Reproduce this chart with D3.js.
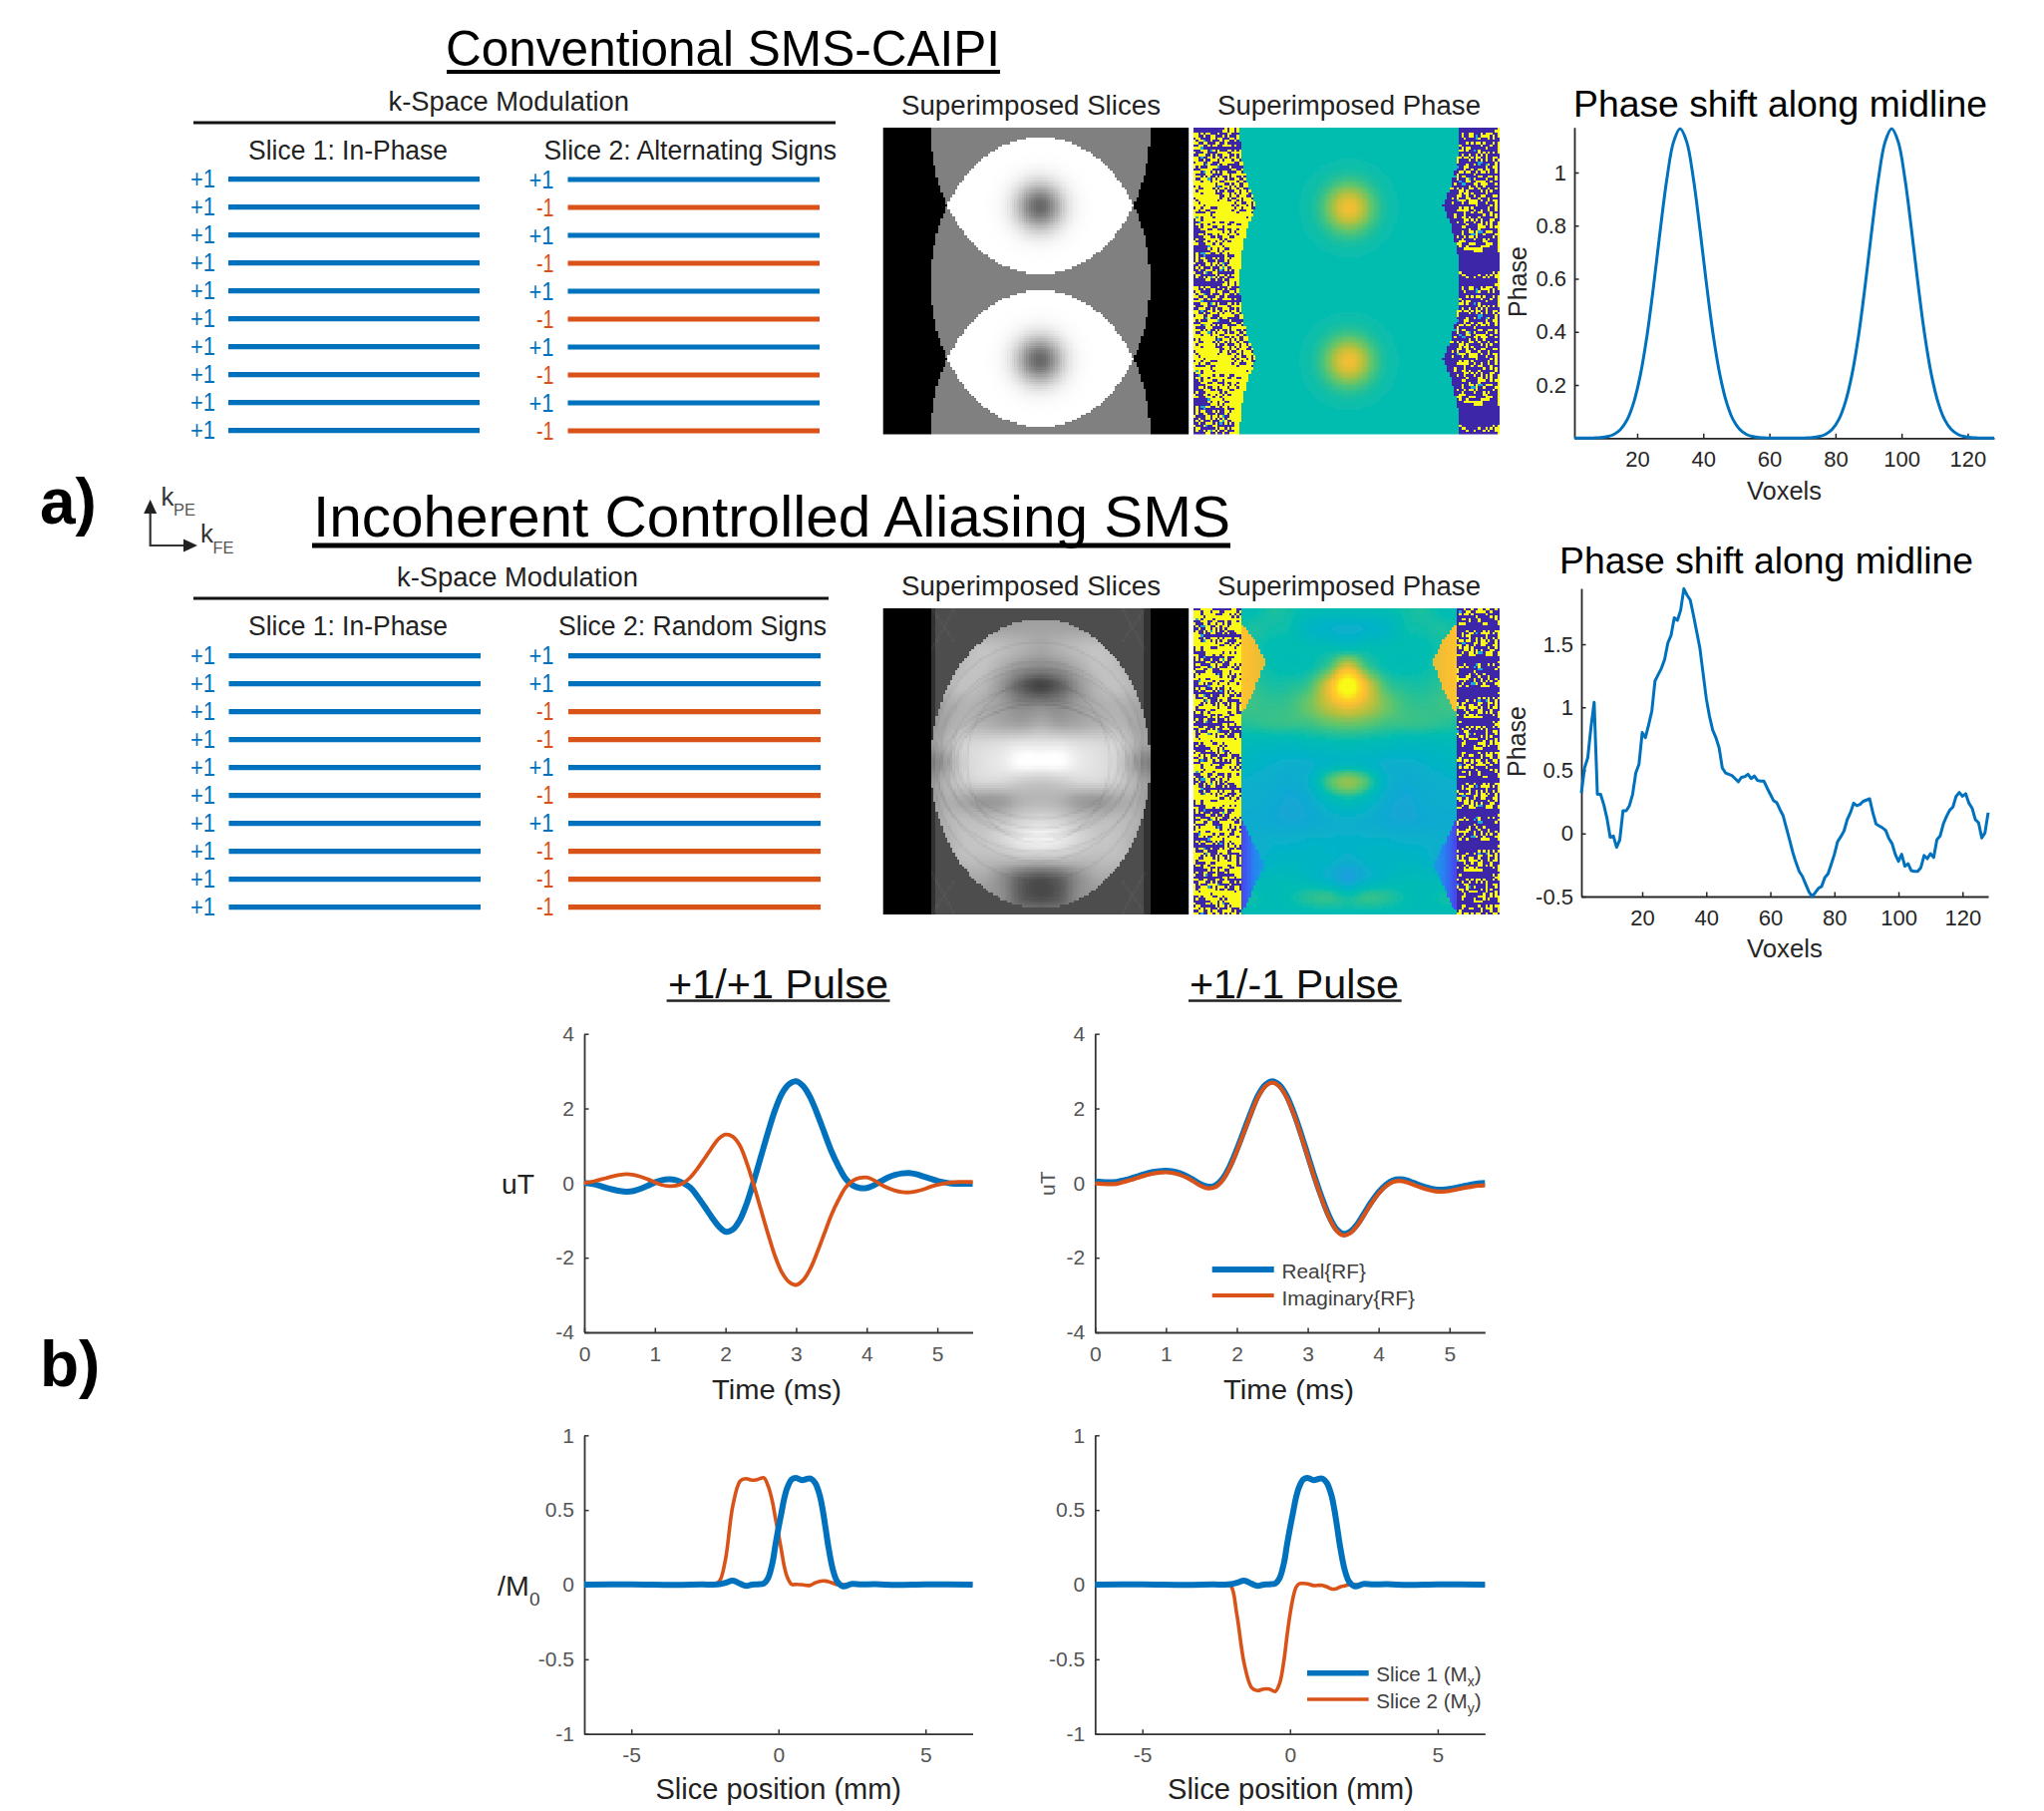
<!DOCTYPE html>
<html><head><meta charset="utf-8">
<script src="https://cdn.jsdelivr.net/npm/d3@7/dist/d3.min.js"></script>
<style>html,body{margin:0;padding:0;background:#fff}svg{display:block}text{font-family:"Liberation Sans",Arial,sans-serif}</style>
</head><body><svg id="c" width="2050" height="1816"></svg>
<script>
// ---------- values ----------
const slice1Signs      = [1,1,1,1,1,1,1,1,1,1];
const alternatingSigns = [1,-1,1,-1,1,-1,1,-1,1,-1];
const randomSigns      = [1,1,-1,-1,1,-1,1,-1,-1,-1];

const voxelTicks = [20,40,60,80,100,120];
const topPhaseTicks = [0.2,0.4,0.6,0.8,1];
const bottomPhaseTicks = [-0.5,0,0.5,1,1.5];
const timeTicks = [0,1,2,3,4,5];
const uTTicks = [-4,-2,0,2,4];
const sliceTicks = [-5,0,5];
const magTicks = [-1,-0.5,0,0.5,1];

// midline phase, conventional (every second voxel, 1,3,5 ... 127, then 128)
const topVoxels = [1,3,5,7,9,11,13,15,17,19,21,23,25,27,29,31,33,35,37,39,41,43,45,47,49,51,53,55,57,59,61,63,65,67,69,71,73,75,77,79,81,83,85,87,89,91,93,95,97,99,101,103,105,107,109,111,113,115,117,119,121,123,125,127,128];
const topPhase = [0,0,0.0002,0.0006,0.002,0.0057,0.0144,0.033,0.07,0.136,0.24,0.388,0.577,0.785,0.977,1.115,1.165,1.115,0.977,0.785,0.577,0.388,0.24,0.136,0.07,0.033,0.0144,0.0057,0.002,0.0006,0.0002,0,0,0,0.0002,0.0006,0.002,0.0057,0.0144,0.033,0.07,0.136,0.24,0.388,0.577,0.785,0.977,1.115,1.165,1.115,0.977,0.785,0.577,0.388,0.24,0.136,0.07,0.033,0.0144,0.0057,0.002,0.0006,0.0002,0,0];

// midline phase, incoherent (voxels 1..128)
const noisyPhase = [0.32,0.52,0.60,0.84,1.04,0.31,0.31,0.23,0.12,-0.03,-0.02,-0.11,-0.05,0.18,0.18,0.22,0.31,0.48,0.55,0.80,0.76,0.86,0.97,1.21,1.26,1.31,1.38,1.51,1.57,1.71,1.69,1.77,1.94,1.89,1.85,1.73,1.60,1.47,1.27,1.07,0.93,0.82,0.76,0.68,0.52,0.48,0.47,0.46,0.435,0.41,0.445,0.45,0.47,0.435,0.455,0.42,0.415,0.415,0.36,0.31,0.26,0.245,0.19,0.14,0.045,-0.05,-0.15,-0.23,-0.30,-0.34,-0.40,-0.46,-0.50,-0.47,-0.435,-0.42,-0.35,-0.32,-0.245,-0.165,-0.065,-0.025,0.02,0.11,0.165,0.24,0.22,0.23,0.255,0.265,0.275,0.165,0.075,0.06,0.045,0.025,-0.04,-0.08,-0.165,-0.22,-0.165,-0.26,-0.24,-0.295,-0.30,-0.30,-0.27,-0.175,-0.20,-0.16,-0.19,-0.05,-0.02,0.075,0.135,0.185,0.21,0.295,0.325,0.295,0.315,0.24,0.20,0.11,0.085,-0.035,0.005,0.165];

// RF pulses, every 0.1 ms from 0 to 5.5
const timeMs = d3.range(56).map(i=>i/10);
const plusReal = [0,-0.02,-0.06,-0.12,-0.17,-0.21,-0.23,-0.21,-0.15,-0.07,0.02,0.08,0.1,0.08,0,-0.12,-0.35,-0.62,-0.9,-1.15,-1.3,-1.25,-1,-0.55,0.05,0.7,1.35,1.95,2.4,2.65,2.73,2.6,2.3,1.85,1.35,0.85,0.45,0.12,-0.06,-0.13,-0.13,-0.06,0.05,0.15,0.22,0.26,0.27,0.24,0.18,0.12,0.06,0.02,-0.01,-0.02,-0.02,-0.02];
const plusImag = [0,0.03,0.08,0.13,0.18,0.22,0.24,0.22,0.17,0.1,0.02,-0.05,-0.08,-0.07,0,0.15,0.38,0.65,0.93,1.18,1.3,1.25,1.02,0.55,-0.05,-0.7,-1.35,-1.95,-2.4,-2.65,-2.73,-2.6,-2.3,-1.85,-1.35,-0.85,-0.45,-0.12,0.06,0.14,0.15,0.08,-0.04,-0.13,-0.2,-0.24,-0.25,-0.22,-0.17,-0.1,-0.05,-0.01,0.02,0.03,0.03,0.03];
const minusReal = [0.04,0.03,0.02,0.03,0.07,0.12,0.18,0.24,0.29,0.32,0.33,0.31,0.26,0.18,0.07,-0.04,-0.1,-0.06,0.12,0.45,0.9,1.4,1.9,2.35,2.63,2.73,2.63,2.35,1.9,1.35,0.75,0.15,-0.4,-0.88,-1.22,-1.36,-1.3,-1.1,-0.8,-0.5,-0.24,-0.05,0.07,0.1,0.07,0,-0.07,-0.13,-0.17,-0.18,-0.16,-0.12,-0.08,-0.04,-0.01,0];
const minusImag = [-0.01,-0.02,-0.03,-0.02,0.03,0.08,0.14,0.2,0.25,0.28,0.29,0.27,0.22,0.14,0.03,-0.08,-0.14,-0.1,0.08,0.41,0.86,1.36,1.86,2.31,2.59,2.69,2.59,2.31,1.86,1.31,0.71,0.11,-0.44,-0.92,-1.26,-1.4,-1.34,-1.14,-0.84,-0.54,-0.28,-0.09,0.03,0.06,0.02,-0.05,-0.12,-0.18,-0.22,-0.23,-0.21,-0.17,-0.13,-0.1,-0.07,-0.06];

// slice profiles
const slicePos   = [-6.6,-5,-3.5,-2.6,-2.2,-2,-1.8,-1.55,-1.3,-1.1,-0.9,-0.7,-0.5,-0.35,-0.2,-0.1,0,0.1,0.2,0.3,0.45,0.6,0.8,1,1.1,1.25,1.4,1.5,1.6,1.7,1.85,2,2.2,2.5,2.8,3.3,4,5,6.6];
const sliceOneMx = [0,0.001,-0.002,0.001,0,0.003,0.012,0.026,0.006,-0.008,0,0.002,0.008,0.045,0.15,0.27,0.38,0.48,0.58,0.65,0.705,0.715,0.7,0.71,0.71,0.68,0.6,0.505,0.38,0.25,0.1,0.02,-0.012,0.005,0.002,0.003,-0.002,0.001,0];
const sliceTwoPlus  = [0,0,0,0,0,0.025,0.17,0.53,0.695,0.71,0.7,0.705,0.715,0.66,0.55,0.44,0.34,0.23,0.12,0.05,0.002,0.002,0,-0.006,-0.003,0.012,0.022,0.025,0.024,0.02,0.01,0,0,0,0,0,0,0,0];
const sliceTwoMinus = [0,0,0,0,0,-0.01,-0.2,-0.53,-0.69,-0.71,-0.7,-0.7,-0.715,-0.66,-0.5,-0.34,-0.2,-0.09,-0.02,0.005,0.008,0.005,-0.006,-0.004,-0.005,-0.015,-0.028,-0.03,-0.025,-0.015,-0.008,0,0,0,0,0,0,0,0];

// outside-object phase noise, hand transcribed: N navy, Y yellow, C cyan (64 rows, repeats)
const noiseLeft = [
"NNNNNNNNNNNNNYNYYNYNNYYNYY","NNNNNNNNNNNNYYNYYNYYNNYNYY","YYNYNYYNNNYNNNYYNNNYYNNYNY","YYNNYNNYYNNNYNYNNNYYNYYNNY",
"NYYNNNNYYNYYNNNYYNYNYYNYYN","YNYYCNNYNNNYNYYNNYNNYNYNYY","YYNNYYNNNYYNNYNNNNNNYYNYNN","NNYYNNYNYYNNYYYYNYNNNYNNYY",
"YYYCNNNNNNNNNNNNNNNNNYYYNY","NNNYYYNCYNYNNNYYNYNYNYNYYN","YNNNYYNNNNYYYYNNYYYYYYNYYN","NNYYYNNYNYNNYYYNNYNYNYYNNY",
"YYNCNNYYNYYNYNYNYYNYYYYYNN","YYNNYNNYYYNYNYYYNYYNNYYNYY","NYYYNNYYNNNYYYYYYNNYYYYYYY","YYYYNCYNNNYNYYNNNNNYYYYYNY",
"YNYNNNYYYYCNNNNYNNNNNNYYYY","NNNYYYYYNNNNNNNNYYNNYYYYYY","YYYNCYYNYNYNYYNNNNYYNYYNYY","YNNNNYYYNNNNYYYNYYYYYYNYYY",
"YYYNYNYNNYNYNNYNYYNNYNYYYY","YNNYYYCNYNYYYNYNNYYNNYYYYN","YYYNYYYNYYYNNYYYYYNYYNYYNY","YYYYYYYYYNYYYNNYNYYNNYYYYY",
"NYNYYYYYYNCNYYYNYNYNNYYNYN","YYNNYYYYNYNYYNYNYYNYYNNYYY","YNYYYYYYYNYNNYNNNYYNYYNYYN","YYYNYYYYYNNNYYYNYNYNYYYNYY",
"YYYYYYYYYYYNNYYNYYNYYYNNYY","NYYYYYYYYYYNYYNYNNYYNYYYNY","YNYYYYYYYYNYYYNNYYNYNYYYYY","YYNYYYYYYYYYYYYYYNYYNNYYNY",
"YYYYNYYYYYYYYYYYNYNYYYNYNY","NYYNYYYNNNYYYYYYYNYYNYYYNN","YYNYYNNYYYYYYYYYNYYNNNYYY ","YNNNNYYNNYYYYYYYYYNYYYYYN ",
"YYYYYYYNYYYYYYYYYYYYYYYY  ","YCYNYYYYNYYYYYYYYYYYYYNY  ","NYYNYYYYYYYYYYYYYYYYYYY   ","NNCYYYYYNYYNNYYNNYYYYYYY  ",
"NYYNYYNYYYYYYYNNYYNNYYY   ","NNYNYYYYNNYYNYYYYYYYYY    ","NNNYYYNNYYNNNYNNYYNYYY    ","NNNNNYYYYYYYNYYNYNYYYY    ",
"NNYYNYNNYYNYYYNYYYNYY     ","NNNNYYYNNYNNYYYNNYYY      ","NYNNNYYYYYYNYNYYYYYY      ","YNNNYYNYYNYYNYNNYY        ",
"YYNNNYYYNYYNYYYYYY        ","NNNNNNCYYYYYNYYYY         ","NNNNNNYNYYNYYNNYY         ","NNNNNNNYYYNYNYYYY         ",
"NYNCCYYNNYYNYYNYY         ","NYNNCNNNNNNNNYNNN         ","NYNYYNNNYNYNNYYNY         ","NYNNYYNNNYNNNYNYY         ",
"YNNNNYYNYYNYCNNYY         ","NNYNNYYNYNYNYNYYY         ","NYNYNNNYNNNYCYNNY         ","NNYNNYYYNYNCNYNYN         ",
"YNNNYCNNYYNNNNNNN         ","NYYNNNNNNYNYYNYNY         ","NYNNYNYCYNYNNYNNN         ","NNNNNYYNNYNNYNNYY         "];
const noiseRight = [
"     NNNNNNNNNNNNNNNNNNY","     NNNNNNNNNNNNNNNNNYY","      NNYNNYYNNNYNYYYNNY","      NNYNNYYNCNYYYYNYNY",
"      NNNYNNNNCYNNNYNYNN","      NNNNNNNNNNNNNNNNNN","      YNNNYNYNYYNYNNNYNY","      NYNNNNNNNNYNNNYNNY",
"     NNNYNYYNNNNNNYNNNNY","     NNYYNYNNCNYNNNNNNNY","     NYNNNNNNNNYNYNYNYNY","    NNNNYNNYNNYNYNYNNNNN",
"    NYYYNYYNYNYYNNYNNYYN","    NNYNNNNYNNYNYNYNNYNY","   NNNYNNNNNNNNCCNNNNNY","   NNNNNNNYNNYNCNNCYNNY",
"  NNNNCNNYYNNNNNNNYNNYY","  NNNCNNNYNNYNNYYNYYNNY"," NNNNNNYYNYYNNYNYYNYNNY"," NNNNNYNNNNNNYNNNNNNNNN",
"NNNNCCYNYYNNNNNYYNNYYNY","NNNNNNYNNNYCNYNNNNYNNNY","NNYNNNNCNNYYNNYYYYNNYNN","NNYNNYNNCCNNNYYNYYYNNNY",
"NNNYNNNNNNNYNNYNNYNNNNN","NYNYYNYNYNNYYNNYNNNYNNY","NNYNNNNYYNYNNNNNYNYNYNN","NNNNNNNYNYYNYNNNNNYNNNN",
" NNNNNYYNNYNNYNNYYNNNYY"," NNNYNYNNNYYNNNYNNNYNNN","  NNNNCYYYNYYYYNYNNYNYY","  NNYNNNYNNYYYYNNNYNNNY",
"   NNNNNNNNNNNYNNNNNYNY","    NNNYNYYNYNNNNNNYNNY","    NNYYYYYNNYNNYNNYNNY","     NNNNYNNYNNYYNNNYNN",
"     YNNNYNNNNNNNYNNYNY","     YNNYYNYNNNYNNNNNNY","      NNNYYNYNYNYNNNYYN","      YNNYNNNYNNYNYNYNNY",
"      NNNNYNNNNYYNYNYNNY","      NNYYNNNNNYYYNNYNYY","      NNNNNYNNNYNNNNNNNY","      NNYNNYYNYCCNYYYNNY",
"      NNYNNNCCYNNYNNNNYY","      YNNYNYYNYNNNNNNYNY","      NNYNNNNYNNNYNYNNNY","      NYYYNNNNNNNYYNNNNY",
"      YYNNNYYYNNNNYYYNNY","      NYNNYNNNNNYYYYNNNY","      NNNYYYYYYYYNNNNNNY","      NNNNNNNYYYYNNNNNNY",
"      NNNNNNNNNNNNNNNNNN","      NNNNNNNNNNNNNNNNNN","      NNNNNNNNNNNNNNNNNN","      NNNNNNNNNNNNNNNNNN",
"      NNNNNNNNNNNNNNNNNN","      NNNNNNNNNNNNNNNNNN","      NNNNNNNNNNNNNNNNNN","      NNNNNNNNNNNNNNNNNN",
"      NYNNNNNNNNNNNNNYNY","      NNYYNNNNNYNNYNYNYY","      NNNNYNNYNNNYNYNNYY","      NNNNNNNNNNNNNNNNNY"];

// coarse hand-read fields, columns 0,8,...64 (mirrored about the centre), rows 0,8,...128
const aliasedPhaseGrid = [
[-.1,-.1,-.05,-.05,.1,.05,-.05,-.1,-.1],
[-.1,-.1,0,.1,.05,0,-.3,-.4,-.45],
[-.1,-.1,.1,.05,-.02,-.05,-.05,-.05,-.1],
[0,0,.15,.1,0,-.05,0,.3,1.05],
[.2,.2,.25,.2,.1,.12,.3,1.1,2.25],
[.3,.3,.3,.25,.2,.25,.5,.9,1.2],
[.1,.1,.1,.15,.2,.22,.25,.38,.45],
[-.1,-.1,-.1,-.15,-.2,-.2,-.12,-.08,-.05],
[-.2,-.2,-.2,-.3,-.4,-.45,-.45,-.3,-.25],
[-.4,-.4,-.4,-.45,-.5,-.55,-.38,.3,.65],
[-.5,-.5,-.5,-.5,-.55,-.65,-.55,-.22,-.05],
[-.55,-.55,-.55,-.55,-.6,-.65,-.6,-.5,-.45],
[-.5,-.5,-.5,-.5,-.45,-.45,-.4,-.4,-.4],
[-.6,-.6,-.6,-.55,-.35,-.3,-.3,-.35,-.45],
[-.3,-.3,-.3,-.25,-.15,-.15,-.25,-.45,-.8],
[.05,.05,.05,.05,-.1,0,.15,.2,.05],
[-.1,-.1,-.1,-.1,-.1,-.1,-.1,-.1,-.05]];
const aliasedGreyGrid = [
[.5,.5,.5,.52,.54,.56,.58,.6,.6],
[.55,.55,.55,.58,.62,.64,.64,.64,.64],
[.6,.6,.62,.68,.72,.76,.74,.7,.66],
[.62,.62,.62,.66,.74,.76,.68,.58,.54],
[.66,.66,.66,.7,.76,.72,.58,.38,.27],
[.58,.58,.58,.66,.7,.68,.62,.54,.54],
[.58,.58,.58,.66,.72,.7,.66,.64,.68],
[.6,.6,.6,.7,.82,.85,.87,.9,.9],
[.46,.46,.46,.62,.82,.88,.92,1,1],
[.56,.56,.56,.7,.8,.84,.84,.8,.78],
[.56,.56,.56,.68,.66,.6,.62,.7,.72],
[.56,.56,.56,.7,.74,.74,.76,.82,.85],
[.62,.62,.62,.68,.76,.78,.84,.92,.96],
[.64,.64,.64,.68,.74,.74,.74,.76,.76],
[.62,.62,.62,.64,.66,.66,.56,.4,.34],
[.56,.56,.56,.56,.58,.58,.55,.36,.3],
[.5,.5,.5,.5,.5,.5,.5,.5,.5]];
// wedges at the edge of the incoherent phase: [row, reach column]
const orangeWedge = [[4,19],[6,20],[14,26],[22,29.5],[35,24.4],[43,20],[46,19]];
const blueWedge   = [[85,19],[87,19.5],[97,24],[107,29.5],[118,24],[125,21],[127,19]];

// phase colour map stops
const parulaAt  = [0,.1,.2,.3,.4,.5,.6,.7,.8,.9,1];
const parulaHex = ["#3e26a8","#4748f0","#2586f0","#1aa0dc","#06b2c8","#04bdb0","#5cc56e","#b8c03c","#fbbe32","#fdd424","#f9fb15"];

// ---------- layout ----------
const BLUE="#0072bd", ORANGE="#d95319", INK="#262626", GREY="#555", SOFT="#404040";
const svg=d3.select("#c");
const defs=svg.append("defs");
defs.append("filter").attr("id","soft").attr("x","0").attr("y","0").attr("width","1").attr("height","1")
    .append("feGaussianBlur").attr("stdDeviation",0.7);

function T(x0,x1,base,str,size,opt={}){
  const t=svg.append("text").attr("x",x0).attr("y",base).attr("font-size",size)
    .attr("fill",opt.fill||"#111").attr("font-weight",opt.weight||null).text(str);
  if(opt.anchor) t.attr("text-anchor",opt.anchor);
  if(x1!=null){t.attr("textLength",x1-x0).attr("lengthAdjust","spacingAndGlyphs");}
  if(opt.rotate!=null) t.attr("transform",`rotate(${opt.rotate} ${x0} ${base})`);
  return t;
}
function rule(x0,x1,y,w,c){svg.append("line").attr("x1",x0).attr("x2",x1).attr("y1",y).attr("y2",y).attr("stroke",c||"#000").attr("stroke-width",w);}

// ---- k-space rows
function rows(signs,x0,x1,labelEnd,y0){
  const y=d3.scaleLinear().domain([0,9]).range([y0,y0+252]);
  const col=s=>s>0?BLUE:ORANGE;
  const g=svg.append("g");
  g.selectAll("line").data(signs).join("line").attr("x1",x0).attr("x2",x1)
    .attr("y1",(d,i)=>y(i)).attr("y2",(d,i)=>y(i)).attr("stroke",col).attr("stroke-width",5.2);
  g.selectAll("text").data(signs).join("text")
    .attr("x",d=>labelEnd-(d>0?25:17.5)).attr("y",(d,i)=>y(i)+8.5)
    .attr("textLength",d=>d>0?25:17.5).attr("lengthAdjust","spacingAndGlyphs")
    .attr("font-size",26).attr("fill",col).text(d=>d>0?"+1":"-1");
}

T(447,1003,66,"Conventional SMS-CAIPI",50,{fill:"#000"}); rule(448,1003,72,4);
T(389.5,631,111,"k-Space Modulation",27,{fill:"#222"}); rule(194,838,123,3,"#111");
T(249,449,159.5,"Slice 1: In-Phase",27,{fill:"#222"}); T(545.6,839,159.5,"Slice 2: Alternating Signs",27,{fill:"#222"});
rows(slice1Signs,229,481,216,179.7); rows(alternatingSigns,569.5,822,555.5,180);
T(904,1164,115,"Superimposed Slices",27,{fill:"#222"}); T(1221,1485,115,"Superimposed Phase",27,{fill:"#222"});

T(314,1234,538,"Incoherent Controlled Aliasing SMS",58,{fill:"#000"}); rule(313,1234,547,5);
T(398,640,588,"k-Space Modulation",27,{fill:"#222"}); rule(194,831,600,3,"#111");
T(249,449,636.5,"Slice 1: In-Phase",27,{fill:"#222"}); T(560,829,636.5,"Slice 2: Random Signs",27,{fill:"#222"});
rows(slice1Signs,229.5,482,216,657.7); rows(randomSigns,570,823,555.5,657.7);
T(904,1164,597,"Superimposed Slices",27,{fill:"#222"}); T(1221,1485,597,"Superimposed Phase",27,{fill:"#222"});

T(40,null,525,"a)",64,{weight:"bold",fill:"#000"});
T(40,null,1390,"b)",64,{weight:"bold",fill:"#000"});
// k axes
svg.append("path").attr("d","M150.7 509V547H188").attr("fill","none").attr("stroke","#333").attr("stroke-width",2.2);
svg.append("path").attr("d","M150.7 501l-6.5 14h13z M198 547l-14 -6.5v13z").attr("fill","#222");
T(161.5,null,506.5,"k",26,{fill:"#333"}); T(174,null,516.5,"PE",16.5,{fill:"#555"});
T(201,null,544,"k",26,{fill:"#333"}); T(213.5,null,555,"FE",16.5,{fill:"#555"});

// ---- voxel images
const N=128;
const parula=d3.scaleLinear().domain(parulaAt).range(parulaHex);
const phaseToColor=d3.scaleLinear().domain([-2,2]).range([0,1]).clamp(true);
const phaseColor=v=>parula(phaseToColor(v));
const greyColor=d3.scaleLinear().domain([0,1]).range(["#000","#fff"]).clamp(true);
const topAt=d3.scaleLinear().domain(topVoxels).range(topPhase);
const bump=d=>d>=30?0:topAt(33+d);   // radial read of one peak of the midline curve

function inside(c,r,cy,cx){const dx=(c-cx)/46,dy=(r-cy)/60.5;return dx*dx+dy*dy<=1;}
function noise(c,r,perm){
  const rr=perm?((r*5+17)%64):(r%64);
  let ch;
  if(c<64){ch=(noiseLeft[rr][c]||"Y");}
  else{const k=c-104; ch=k>=0?(noiseRight[rr][k]||"N"):"N";}
  if(ch===" ") ch=c<64?"Y":"N";
  return ch==="Y"?"#f9fb15":ch==="C"?"#1aa8d8":"#3e26a8";
}
function catmull(a,b,c,d,t){return 0.5*(2*b+(c-a)*t+(2*a-5*b+4*c-d)*t*t+(3*b-a-3*c+d)*t*t*t);}
function gridAt(g,r,c){
  const cc=c<=64?c:128-c; const x=Math.max(cc,0)/8,y=Math.min(r/8,16);
  const xi=Math.min(7,Math.floor(x)),yi=Math.min(15,Math.floor(y)),tx=x-xi,ty=y-yi;
  const G=(i,j)=>g[Math.max(0,Math.min(16,i))][j<0?0:j>8?16-j:j];
  const row=i=>catmull(G(i,xi-1),G(i,xi),G(i,xi+1),G(i,xi+2),tx);
  return catmull(row(yi-1),row(yi),row(yi+1),row(yi+2),ty);
}
function reach(w,r){
  if(r<w[0][0]||r>w[w.length-1][0]) return -1;
  return d3.scaleLinear().domain(w.map(d=>d[0])).range(w.map(d=>d[1]))(r);
}
function paint(fn,x,y,w,h,after){
  const cv=document.createElement("canvas");cv.width=N;cv.height=N;
  const ctx=cv.getContext("2d");
  for(let r=0;r<N;r++)for(let c=0;c<N;c++){ctx.fillStyle=fn(c,r);ctx.fillRect(c,r,1,1);}
  if(after) after(ctx);
  svg.append("image").attr("x",x).attr("y",y).attr("width",w).attr("height",h)
    .attr("preserveAspectRatio","none").attr("href",cv.toDataURL())
    .style("image-rendering","pixelated").attr("filter","url(#soft)");
}

// conventional magnitude
paint((c,r)=>{
  const n=(inside(c,r,0,65.4)?1:0)+(inside(c,r,64,65.4)?1:0)+(inside(c,r,128,65.4)?1:0);
  let v=n/2;
  if(n>=2){
    const rc=r<64?32.5:96.5,d=Math.hypot(c-65,r-rc);
    v=1-0.6*bump(d)/1.165;
  }
  return greyColor(v);
},885.7,128,306.5,307.5);

// conventional phase
paint((c,r)=>{
  const n=inside(c,r,0,64.8)||inside(c,r,64,64.8)||inside(c,r,128,64.8);
  if(!n) return noise(c,r,false);
  const rc=r<64?33:97,d=Math.hypot(c-64.5,r-rc);
  return phaseColor(bump(d));
},1197,128,307,307.5);

// incoherent magnitude
const ringSet=[[65,60,41,35],[65,62,37,30],[65,70,42,32],[65,68,38,28],[65,60,44,46],[65,68,44,46],[65,64,34,24],[65,64,30,34]];
paint((c,r)=>{
  if(c<19.4||c>111) return "#000";
  if(inside(c,r,64.5,65.4)) return greyColor(gridAt(aliasedGreyGrid,r,c-1.4));
  const edge=(c<22||c>108)?0.2:0.3;
  return greyColor(edge);
},885.7,610,306.5,307,ctx=>{
  ctx.save();ctx.beginPath();ctx.rect(19.4,0,91.6,128);ctx.clip();
  ctx.strokeStyle="rgba(20,20,20,.1)";ctx.lineWidth=.6;
  ringSet.forEach(e=>{ctx.beginPath();ctx.ellipse(e[0],e[1],e[2],e[3],0,0,2*Math.PI);ctx.stroke();});
  ctx.strokeStyle="rgba(255,255,255,.08)";
  [[20,0,30,14],[30,0,20,18],[110,0,100,14],[100,0,110,18],[20,128,30,114],[30,128,20,110],[110,128,100,114],[100,128,110,110]].forEach(s=>{
    ctx.beginPath();ctx.moveTo(s[0],s[1]);ctx.lineTo(s[2],s[3]);ctx.stroke();});
  ctx.restore();
});

// incoherent phase
paint((c,r)=>{
  if(c<20||c>109) return noise(c,r,true);
  let v=gridAt(aliasedPhaseGrid,r,c);
  const m=c<=64?c:129-c;
  const ro=reach(orangeWedge,r), rb=reach(blueWedge,r);
  if(m<ro) v=1.3-0.25*(m-20)/9;
  if(m<rb) v=-1.6+0.7*(m-20)/9;
  return phaseColor(v);
},1197,610,307,307);

// ---- line plots
function axes(b,xd,yd,xt,yt,o){
  const x=d3.scaleLinear().domain(xd).range([b.l,b.r]);
  const y=d3.scaleLinear().domain(yd).range([b.b,b.t]);
  const fmt=d=>String(d);
  const gx=svg.append("g").attr("transform",`translate(0,${b.b})`)
    .call(d3.axisBottom(x).tickValues(xt).tickFormat(fmt).tickSizeInner(-4.5).tickSizeOuter(0).tickPadding(o.padX));
  const gy=svg.append("g").attr("transform",`translate(${b.l},0)`)
    .call(d3.axisLeft(y).tickValues(yt).tickFormat(fmt).tickSizeInner(-4.5).tickSizeOuter(0).tickPadding(o.padY));
  [gx,gy].forEach(g=>{
    g.selectAll("text").attr("font-size",o.fs).attr("fill",o.fc).attr("font-family",'"Liberation Sans",Arial,sans-serif');
    g.selectAll("line").attr("stroke",o.ac).attr("stroke-width",1.5);
    g.select(".domain").attr("stroke",o.ac).attr("stroke-width",1.8);
  });
  return {x,y};
}
function trace(s,xs,ys,color,w,curve){
  const pts=xs.map((d,i)=>[d,ys[i]]);
  svg.append("path").datum(pts).attr("fill","none").attr("stroke",color).attr("stroke-width",w)
    .attr("stroke-linejoin","round")
    .attr("d",d3.line().x(d=>s.x(d[0])).y(d=>s.y(d[1])).curve(curve||d3.curveCatmullRom.alpha(0.5)));
}
const phaseStyle={padX:13.5,padY:8,fs:22,fc:INK,ac:INK};
const rfStyle={padX:14,padY:10,fs:21,fc:GREY,ac:"#333"};

// phase top
let s=axes({l:1579,r:2000,t:127.7,b:439.3},[1,128],[0,1.17],voxelTicks,topPhaseTicks,phaseStyle);
trace(s,topVoxels,topPhase,BLUE,3);
T(1578,1993,117,"Phase shift along midline",37,{fill:"#000"});
T(1752,1827,501,"Voxels",25,{fill:INK});
T(1531,null,318,"Phase",25,{fill:INK,rotate:-90});

// phase bottom
s=axes({l:1586,r:1994,t:590,b:899},[1,128],[-0.5,1.943],voxelTicks,bottomPhaseTicks,phaseStyle);
trace(s,noisyPhase.map((d,i)=>i+1),noisyPhase,BLUE,3,d3.curveLinear);
T(1564,1979,575,"Phase shift along midline",37,{fill:"#000"});
T(1752,1828,960,"Voxels",25,{fill:INK});
T(1530,null,779,"Phase",25,{fill:INK,rotate:-90});

// RF pulse +1/+1
s=axes({l:586,r:975.5,t:1036.7,b:1336},[0,5.5],[-4,4],timeTicks,uTTicks,rfStyle);
trace(s,timeMs,plusReal,BLUE,6); trace(s,timeMs,plusImag,ORANGE,3.8);
T(670,891,1000.5,"+1/+1 Pulse",41,{fill:"#111"}); rule(668.6,892.5,1003.5,2.6,"#222");
T(714,844,1403,"Time (ms)",28.5,{fill:"#222"});
T(503,536,1197,"uT",28.5,{fill:"#222"});

// RF pulse +1/-1
s=axes({l:1098.3,r:1489.3,t:1036.7,b:1336},[0,5.5],[-4,4],timeTicks,uTTicks,rfStyle);
trace(s,timeMs,minusReal,BLUE,6); trace(s,timeMs,minusImag,ORANGE,4.2);
T(1193,1403,1000.5,"+1/-1 Pulse",41,{fill:"#111"}); rule(1192,1405.7,1003.5,2.6,"#222");
T(1227,1358,1403,"Time (ms)",28.5,{fill:"#222"});
T(1058,null,1199,"uT",21,{fill:GREY,rotate:-90});
rule(1215.7,1277.7,1273,6,BLUE); rule(1215.7,1277.7,1299,4,ORANGE);
T(1285.5,1370,1281.7,"Real{RF}",20.5,{fill:SOFT}); T(1285.5,1419,1308.5,"Imaginary{RF}",20.5,{fill:SOFT});

// slice profile +1/+1
s=axes({l:586,r:975.5,t:1439.3,b:1738.7},[-6.6,6.6],[-1,1],sliceTicks,magTicks,{...rfStyle,padX:13.5});
trace(s,slicePos,sliceTwoPlus,ORANGE,3.6); trace(s,slicePos,sliceOneMx,BLUE,6);
T(657.5,904,1804,"Slice position (mm)",29,{fill:"#222"});
T(499,null,1600,"/M",28.5,{fill:"#222"}); T(531,null,1610,"0",19,{fill:"#444"});

// slice profile +1/-1
s=axes({l:1098.3,r:1489.3,t:1439.3,b:1738.7},[-6.6,6.6],[-1,1],sliceTicks,magTicks,{...rfStyle,padX:13.5});
trace(s,slicePos,sliceTwoMinus,ORANGE,3.6); trace(s,slicePos,sliceOneMx,BLUE,6);
T(1171,1418,1804,"Slice position (mm)",29,{fill:"#222"});
rule(1311,1372.7,1677.7,5.6,BLUE); rule(1311,1372.7,1704,3.6,ORANGE);
function sub(x,y,a,b,c){
  const t=svg.append("text").attr("x",x).attr("y",y).attr("font-size",20.6).attr("fill",SOFT);
  t.append("tspan").text(a);
  t.append("tspan").attr("dy",5).attr("font-size",14).text(b);
  t.append("tspan").attr("dy",-5).text(c);
}
sub(1380.2,1686,"Slice 1 (M","x",")");
sub(1380.2,1713,"Slice 2 (M","y",")");
</script></body></html>
